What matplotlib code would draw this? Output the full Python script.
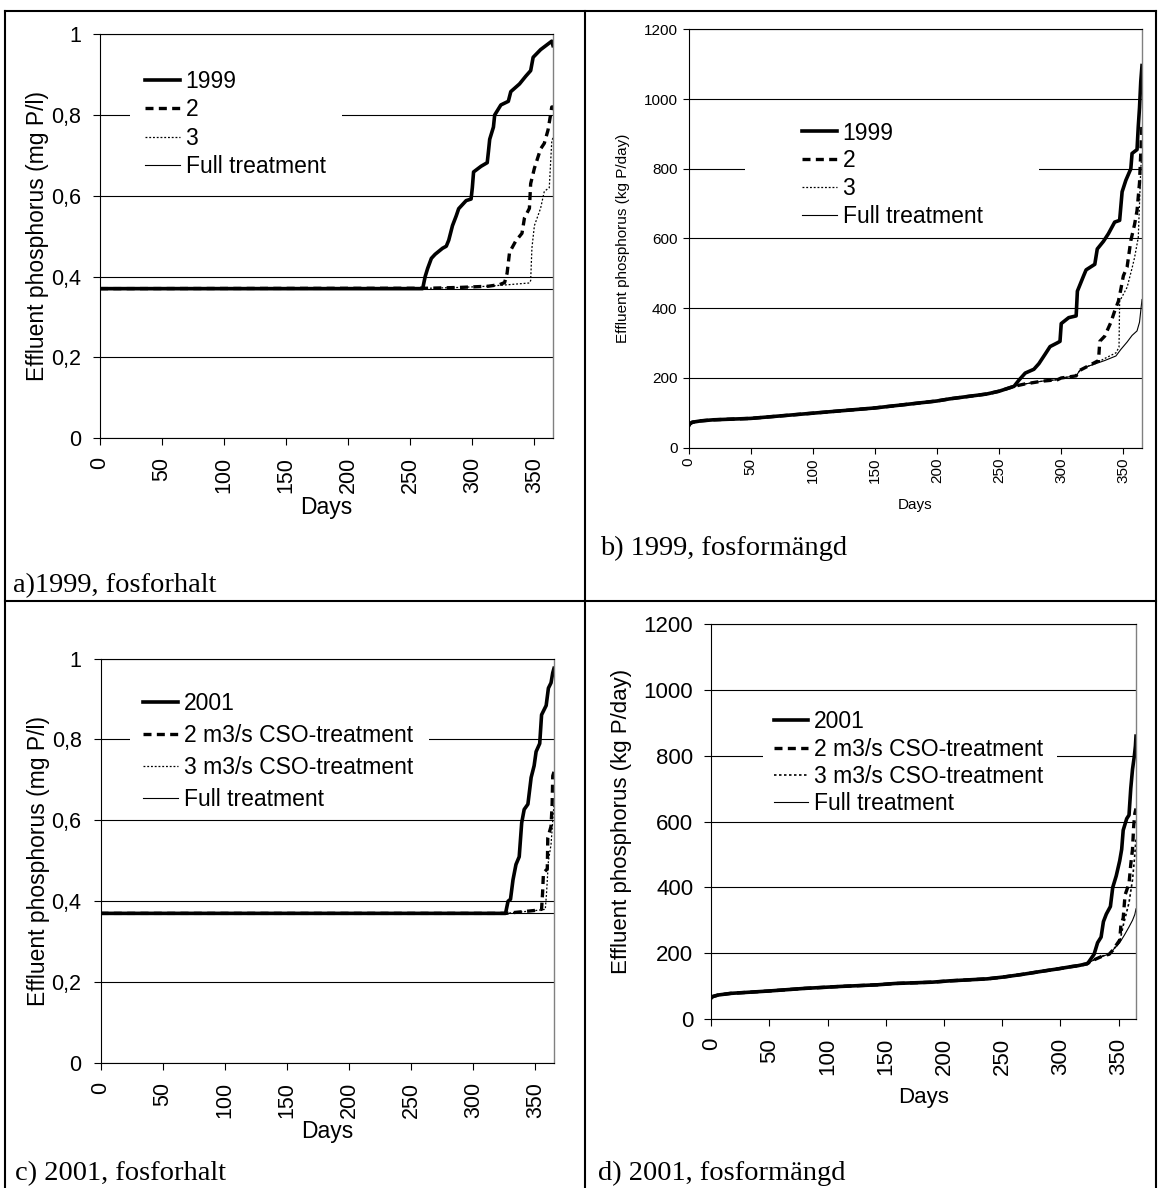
import matplotlib
matplotlib.use('Agg')
import matplotlib.pyplot as plt
from matplotlib.lines import Line2D
from matplotlib.patches import Rectangle

# ---- data ----
days_ticks = [0, 50, 100, 150, 200, 250, 300, 350]
conc_ticks = [0, 0.2, 0.4, 0.6, 0.8, 1.0]
conc_ticklabels = ['0', '0,2', '0,4', '0,6', '0,8', '1']
load_ticks = [0, 200, 400, 600, 800, 1000, 1200]

# a) 1999 concentration (mg P/l)
a_days_1999 = [0, 260, 262, 264, 267, 270, 276, 279, 281, 284, 287, 289, 295, 299, 300, 301, 307, 312, 313,
               314, 317, 318, 323, 329, 331, 338, 343, 347, 349, 355, 361, 364, 365]
a_val_1999 = [0.37, 0.37, 0.40, 0.42, 0.445, 0.455, 0.47, 0.475, 0.49, 0.526, 0.55, 0.568, 0.588, 0.592, 0.62,
              0.659, 0.673, 0.682, 0.71, 0.74, 0.77, 0.80, 0.825, 0.834, 0.858, 0.877, 0.896, 0.91, 0.943,
              0.962, 0.976, 0.983, 0.972]
a_days_2 = [0, 265, 290, 313, 322, 326, 328, 330, 335, 340, 342, 346, 347, 350, 355, 358, 361, 363, 364, 365]
a_val_2 = [0.37, 0.371, 0.373, 0.376, 0.38, 0.385, 0.408, 0.46, 0.488, 0.507, 0.545, 0.569, 0.63, 0.668,
           0.716, 0.73, 0.763, 0.80, 0.82, 0.82]
a_days_3 = [0, 265, 290, 313, 330, 346, 347, 348, 350, 355, 358, 362, 364, 365]
a_val_3 = [0.37, 0.371, 0.373, 0.376, 0.38, 0.384, 0.39, 0.47, 0.526, 0.569, 0.611, 0.62, 0.735, 0.744]
a_days_full = [0, 365]
a_val_full = [0.37, 0.37]

# b) 1999 load (kg P/day)
b_days_base = [0, 1, 3, 10, 20, 50, 100, 150, 200, 210, 240, 250, 262]
b_val_base = [62, 68, 73, 77, 80, 84, 99, 114, 134, 140, 154, 162, 176]
b_days_1999_tail = [266, 271, 278, 282, 287, 291, 297, 299, 300, 306, 312, 313, 318, 320, 327, 329, 334, 338,
                    343, 347, 349, 352, 356, 357, 361, 362, 363, 364, 365]
b_val_1999_tail = [194, 214, 225, 241, 268, 290, 301, 305, 356, 373, 378, 449, 493, 510, 526, 570, 592, 614,
                   647, 652, 734, 767, 800, 844, 855, 921, 975, 1050, 1096]
b_days_full_tail = [271, 285, 297, 300, 312, 315, 321, 327, 335, 344, 348, 353, 357, 361, 363, 365]
b_val_full_tail = [183, 191, 195, 200, 206, 222, 233, 240, 250, 263, 282, 303, 322, 335, 360, 425]
b_days_2_tail = [330, 331, 335, 340, 343, 346, 348, 350, 353, 356, 359, 361, 363, 364, 365]
b_val_2_tail = [250, 305, 320, 360, 392, 420, 455, 493, 518, 594, 640, 680, 760, 845, 931]
b_days_3_tail = [335, 344, 346.5, 347, 350, 353, 357, 359, 362, 363, 364, 365]
b_val_3_tail = [256, 272, 288, 420, 440, 460, 515, 545, 603, 701, 800, 845]

# c) 2001 concentration (mg P/l)
c_days_2001 = [0, 326, 328, 330, 332, 334.4, 337, 339, 341, 344, 346.6, 349, 350.6, 353.5, 355, 358.7, 360.5,
               362.6, 364, 365]
c_val_2001 = [0.37, 0.37, 0.40, 0.405, 0.453, 0.491, 0.51, 0.594, 0.627, 0.64, 0.706, 0.735, 0.77, 0.79, 0.861,
              0.884, 0.927, 0.94, 0.965, 0.976]
c_days_2 = [0, 326, 349, 355, 355.8, 356.5, 359.6, 360, 362.6, 363.5, 364, 365]
c_val_2 = [0.37, 0.37, 0.377, 0.38, 0.42, 0.47, 0.48, 0.557, 0.585, 0.64, 0.71, 0.72]
c_days_3 = [0, 326, 350, 358, 359, 360.5, 362.6, 364, 365]
c_val_3 = [0.37, 0.37, 0.377, 0.38, 0.42, 0.5, 0.54, 0.6, 0.64]
c_days_full = [0, 365]
c_val_full = [0.37, 0.37]

# d) 2001 load (kg P/day)
d_days_base = [0, 1, 6, 17, 49, 80, 111, 143, 158, 190, 205, 237, 252, 268, 284, 299, 309, 315, 323]
d_val_base = [64, 68, 73, 78, 85, 93, 99, 104, 108, 112, 116, 122, 128, 136, 145, 153, 159, 162, 168]
d_days_2001_tail = [324.5, 329, 332, 335, 337, 339.5, 343, 345, 348, 351, 352.7, 354, 357, 359, 360.5, 362,
                    363.6, 364.5, 365]
d_val_2001_tail = [174, 197, 232, 249, 296, 319, 342, 400, 435, 481, 516, 574, 609, 620, 701, 759, 800, 830, 860]
d_days_full_tail = [329, 336, 342, 345, 351, 355, 359, 362, 364, 365]
d_val_full_tail = [180, 191, 197, 209, 232, 255, 280, 300, 318, 335]
d_days_2_tail = [351, 352, 354, 355.6, 359, 360.5, 362, 363, 364, 365]
d_val_2_tail = [240, 284, 307, 377, 412, 470, 516, 586, 625, 640]
d_days_3_tail = [351, 354, 359, 362, 364, 365]
d_val_3_tail = [235, 284, 354, 423, 500, 550]

labels_1999 = ['1999', '2', '3', 'Full treatment']
labels_2001 = ['2001', '2 m3/s CSO-treatment', '3 m3/s CSO-treatment', 'Full treatment']
captions = ['a)1999, fosforhalt', 'b) 1999, fosformängd', 'c) 2001, fosforhalt', 'd) 2001, fosformängd']

# ---- figure ----
W, H = 1159, 1188
plt.rcParams['font.family'] = ['Liberation Sans', 'DejaVu Sans']
fig = plt.figure(figsize=(W / 100, H / 100), dpi=100)


def fx(x):
    return x / W


def fy(y):
    return 1 - y / H


styles = [dict(color='black', lw=2.6, ls='-', zorder=2.4),
          dict(color='black', lw=2.4, ls=(0, (2.4, 1.6)), zorder=2.3),
          dict(color='black', lw=0.9, ls=(0, (1.5, 1.5)), zorder=2.2),
          dict(color='black', lw=0.8, ls='-', zorder=2.1)]


def panel(box, series, labels, ylim, yticks, yticklabels, ylabel, fs_tick, fs_label,
          ypad, xpad, ticklen, ylab_x, xlab_y, white_box, leg_top_left, labelspacing, dot_lw=0.9):
    left, top, right, bottom = box
    ax = fig.add_axes([fx(left), fy(bottom), (right - left) / W, (bottom - top) / H])
    handles = []
    for i, ((d, v), st, lab) in enumerate(zip(series, styles, labels)):
        lw = dot_lw if i == 2 else st['lw']
        h, = ax.plot(d, v, color=st['color'], lw=lw, ls=st['ls'], zorder=st['zorder'], label=lab)
        handles.append(h)
    ax.set_xlim(0, 365)
    ax.set_ylim(*ylim)
    ax.set_xticks(days_ticks)
    ax.set_xticklabels([str(t) for t in days_ticks], rotation=90, fontsize=fs_tick)
    ax.set_yticks(yticks)
    ax.set_yticklabels(yticklabels, fontsize=fs_tick)
    ax.tick_params(axis='y', direction='out', length=ticklen, width=0.8, pad=ypad)
    ax.tick_params(axis='x', direction='out', length=ticklen, width=0.8, pad=xpad)
    ax.set_axisbelow(True)
    ax.yaxis.grid(True, color='black', lw=0.8)
    for s in ['left', 'bottom', 'top']:
        ax.spines[s].set_color('black')
        ax.spines[s].set_linewidth(0.8)
    ax.spines['right'].set_color('#808080')
    ax.spines['right'].set_linewidth(1.0)
    ax.set_ylabel(ylabel, fontsize=fs_label, va='center')
    ax.yaxis.set_label_coords(ylab_x, 0.5)
    ax.set_xlabel('Days', fontsize=fs_label, va='center')
    ax.xaxis.set_label_coords(0.5, xlab_y)
    # white legend background hides the gridline behind it
    wl, wt, wr, wb = white_box
    ax.add_patch(Rectangle((fx(wl), fy(wb)), (wr - wl) / W, (wb - wt) / H, transform=fig.transFigure,
                           facecolor='white', edgecolor='none', zorder=1))
    ax.legend(handles=handles, loc='upper left', bbox_to_anchor=(fx(leg_top_left[0]), fy(leg_top_left[1])),
              bbox_transform=fig.transFigure, frameon=False, borderpad=0, borderaxespad=0,
              fontsize=16.5, handlelength=1.52, handletextpad=0.25, labelspacing=labelspacing)
    return ax


series_a = [(a_days_1999, a_val_1999), (a_days_2, a_val_2), (a_days_3, a_val_3), (a_days_full, a_val_full)]
series_b = [(b_days_base + b_days_1999_tail, b_val_base + b_val_1999_tail),
            (b_days_base + b_days_full_tail[:7] + b_days_2_tail, b_val_base + b_val_full_tail[:7] + b_val_2_tail),
            (b_days_base + b_days_full_tail[:8] + b_days_3_tail, b_val_base + b_val_full_tail[:8] + b_val_3_tail),
            (b_days_base + b_days_full_tail, b_val_base + b_val_full_tail)]
series_c = [(c_days_2001, c_val_2001), (c_days_2, c_val_2), (c_days_3, c_val_3), (c_days_full, c_val_full)]
series_d = [(d_days_base + d_days_2001_tail, d_val_base + d_val_2001_tail),
            (d_days_base + d_days_full_tail[:4] + d_days_2_tail, d_val_base + d_val_full_tail[:4] + d_val_2_tail),
            (d_days_base + d_days_full_tail[:4] + d_days_3_tail, d_val_base + d_val_full_tail[:4] + d_val_3_tail),
            (d_days_base + d_days_full_tail, d_val_base + d_val_full_tail)]

panel((100, 34.3, 553, 438), series_a, labels_1999, (0, 1), conc_ticks, conc_ticklabels,
      'Effluent phosphorus (mg P/l)', 15.5, 16.5, 8.6, 8.6, 5, -0.138, -0.173,
      (130, 60, 342, 175), (145, 70), 0.23)
panel((688.5, 29.3, 1142, 447.7), series_b, labels_1999, (0, 1200), load_ticks, [str(t) for t in load_ticks],
      'Effluent phosphorus (kg P/day)', 11, 11, 3.6, 3.0, 4.3, -0.145, -0.136,
      (745, 112, 1039, 225), (802, 121.5), 0.21)
panel((100.5, 658.6, 554, 1063), series_c, labels_2001, (0, 1), conc_ticks, conc_ticklabels,
      'Effluent phosphorus (mg P/l)', 15.5, 16.5, 8.6, 8.6, 5, -0.137, -0.170,
      (130, 685, 429, 810), (143, 692), 0.39)
panel((711.3, 624.3, 1136, 1019), series_d, labels_2001, (0, 1200), load_ticks, [str(t) for t in load_ticks],
      'Effluent phosphorus (kg P/day)', 16, 16, 8, 8.6, 5, -0.211, -0.198,
      (762.5, 700, 1057, 810), (773.5, 710.5), 0.18, dot_lw=1.2)

# table borders
for x0, y0, x1, y1 in [(4.5, 10.7, 1156, 10.7), (4.5, 601, 1156, 601), (4.5, 10.7, 4.5, 1188),
                       (585, 10.7, 585, 1188), (1156, 10.7, 1156, 1188)]:
    fig.add_artist(Line2D([fx(x0), fx(x1)], [fy(y0), fy(y1)], transform=fig.transFigure, color='black', lw=1.5))

# captions
for txt, (x, y) in zip(captions, [(13, 592), (600, 555), (15, 1180), (598, 1180)]):
    fig.text(fx(x), fy(y), txt, fontsize=20.5, family=['Liberation Serif', 'DejaVu Serif'], va='baseline')

fig.savefig('out.png', dpi=100)
